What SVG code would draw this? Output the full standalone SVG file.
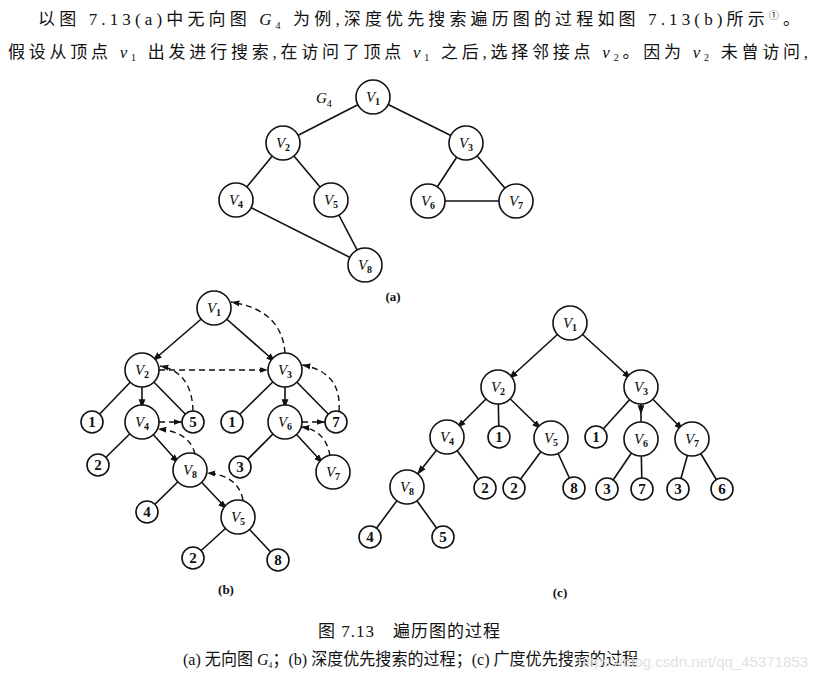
<svg xmlns="http://www.w3.org/2000/svg" width="819" height="684" viewBox="0 0 819 684">
<style>
.t{font-family:"Liberation Serif","Noto Sans CJK SC",serif;font-size:17px;fill:#111}
.c{fill:#fff;stroke:#111;stroke-width:1.6}
.e{fill:none;stroke:#111;stroke-width:1.6}
.d{fill:none;stroke:#111;stroke-width:1.4;stroke-dasharray:6,4}
.v{font-family:"Liberation Serif",serif;font-style:italic;font-size:15px;fill:#111;text-anchor:middle}
.s{font-family:"Liberation Serif",serif;font-size:15px;font-weight:bold;fill:#111;text-anchor:middle}
.sub{font-size:10px;font-style:normal;font-weight:bold}
.lab{font-family:"Liberation Serif",serif;font-size:13px;font-weight:bold;fill:#111;text-anchor:middle}
</style>
<defs>
<marker id="ar" viewBox="0 0 10 10" refX="5" refY="5" markerWidth="6" markerHeight="6" orient="auto"><path d="M0,1.5 L10,5 L0,8.5 z" fill="#111"/></marker>
<marker id="ae" viewBox="0 0 10 10" refX="10" refY="5" markerWidth="6" markerHeight="6" orient="auto"><path d="M0,1.5 L10,5 L0,8.5 z" fill="#111"/></marker>
</defs>
<rect width="819" height="684" fill="#fff"/>
<text class="t" x="38" y="25" textLength="762" lengthAdjust="spacing">以图 7.13(a)中无向图 <tspan font-style="italic">G</tspan><tspan font-size="10" dy="4">4</tspan><tspan dy="-4"> 为例,深度优先搜索遍历图的过程如图 7.13(b)所示</tspan><tspan font-size="10" dy="-6">①</tspan><tspan dy="6">。</tspan></text>
<text class="t" x="8" y="58" textLength="800" lengthAdjust="spacing">假设从顶点 <tspan font-style="italic">v</tspan><tspan font-size="10" dy="3">1</tspan><tspan dy="-3"> 出发进行搜索,在访问了顶点 </tspan><tspan font-style="italic">v</tspan><tspan font-size="10" dy="3">1</tspan><tspan dy="-3"> 之后,选择邻接点 </tspan><tspan font-style="italic">v</tspan><tspan font-size="10" dy="3">2</tspan><tspan dy="-3">。因为 </tspan><tspan font-style="italic">v</tspan><tspan font-size="10" dy="3">2</tspan><tspan dy="-3"> 未曾访问,</tspan></text>

<g id="connectors">
<path class="e" d="M373,97 L283,143 M373,97 L466,143 M283,143 L236,200 M283,143 L331,200 M466,143 L428,201 M466,143 L516,201 M428,201 L516,201 M236,200 L365,265 M331,200 L365,265"/>
<path class="e" marker-mid="url(#ar)" d="M214,308 L156,358 L142,370"/>
<path class="e" marker-mid="url(#ar)" d="M214,308 L272,359 L285,370"/>
<path class="e" marker-mid="url(#ar)" d="M142,370 L142,404 L142,422"/>
<path class="e" marker-mid="url(#ar)" d="M142,422 L176,460 L190,470"/>
<path class="e" marker-mid="url(#ar)" d="M190,470 L224,506 L238,517"/>
<path class="e" marker-mid="url(#ar)" d="M285,370 L285,404 L285,422"/>
<path class="e" marker-mid="url(#ar)" d="M285,422 L320,460 L333,472"/>
<path class="e" d="M142,370 L92,422 M142,370 L193,422 M285,370 L232,422 M285,370 L336,422 M142,422 L98,465 M285,422 L240,467 M190,470 L147,512 M238,517 L193,558 M238,517 L278,560"/>
<path class="d" marker-end="url(#ae)" d="M159,370 L268,370"/>
<path class="d" marker-end="url(#ae)" d="M159,422 L182,422"/>
<path class="d" marker-end="url(#ae)" d="M302,422 L325,422"/>
<path class="d" marker-end="url(#ae)" d="M193,411 Q192,372 160,366"/>
<path class="d" marker-end="url(#ae)" d="M195,454 Q190,432 158,429"/>
<path class="d" marker-end="url(#ae)" d="M243,500 Q238,475 207,473"/>
<path class="d" marker-end="url(#ae)" d="M330,456 Q326,430 301,427"/>
<path class="d" marker-end="url(#ae)" d="M339,411 Q342,372 302,365"/>
<path class="d" marker-end="url(#ae)" d="M285,353 Q282,310 231,302"/>
<path class="e" marker-mid="url(#ar)" d="M570,323 L512,376 L498,387"/>
<path class="e" marker-mid="url(#ar)" d="M570,323 L628,376 L641,387"/>
<path class="e" marker-mid="url(#ar)" d="M498,387 L460,425 L447,437"/>
<path class="e" marker-mid="url(#ar)" d="M498,387 L538,426 L551,438"/>
<path class="e" marker-mid="url(#ar)" d="M641,387 L641,410 L641,439"/>
<path class="e" marker-mid="url(#ar)" d="M641,387 L680,427 L692,439"/>
<path class="e" marker-mid="url(#ar)" d="M447,437 L420,471 L407,487"/>
<path class="e" d="M498,387 L499,437 M641,387 L596,437 M447,437 L485,488 M551,438 L514,488 M551,438 L574,488 M641,439 L607,489 M641,439 L642,489 M692,439 L678,489 M692,439 L722,489 M407,487 L370,537 M407,487 L443,537"/>
</g>

<g id="a-nodes">
<text x="316" y="103" font-family="Liberation Serif,serif" font-style="italic" font-size="15">G<tspan font-size="10" dy="4" font-style="normal">4</tspan></text>
<g id="a1"><circle class="c" cx="373" cy="97" r="17"/><text class="v" x="373" y="102">V<tspan class="sub" dy="3">1</tspan></text></g>
<g id="a2"><circle class="c" cx="283" cy="143" r="17"/><text class="v" x="283" y="148">V<tspan class="sub" dy="3">2</tspan></text></g>
<g id="a3"><circle class="c" cx="466" cy="143" r="17"/><text class="v" x="466" y="148">V<tspan class="sub" dy="3">3</tspan></text></g>
<g id="a4"><circle class="c" cx="236" cy="200" r="17"/><text class="v" x="236" y="205">V<tspan class="sub" dy="3">4</tspan></text></g>
<g id="a5"><circle class="c" cx="331" cy="200" r="17"/><text class="v" x="331" y="205">V<tspan class="sub" dy="3">5</tspan></text></g>
<g id="a6"><circle class="c" cx="428" cy="201" r="17"/><text class="v" x="428" y="206">V<tspan class="sub" dy="3">6</tspan></text></g>
<g id="a7"><circle class="c" cx="516" cy="201" r="17"/><text class="v" x="516" y="206">V<tspan class="sub" dy="3">7</tspan></text></g>
<g id="a8"><circle class="c" cx="365" cy="265" r="17"/><text class="v" x="365" y="270">V<tspan class="sub" dy="3">8</tspan></text></g>
<text class="lab" x="393" y="301">(a)</text>
</g>

<g id="b-nodes">
<g id="b1"><circle class="c" cx="214" cy="308" r="17"/><text class="v" x="214" y="313">V<tspan class="sub" dy="3">1</tspan></text></g>
<g id="b2"><circle class="c" cx="142" cy="370" r="17"/><text class="v" x="142" y="375">V<tspan class="sub" dy="3">2</tspan></text></g>
<g id="b3"><circle class="c" cx="285" cy="370" r="17"/><text class="v" x="285" y="375">V<tspan class="sub" dy="3">3</tspan></text></g>
<g id="b4"><circle class="c" cx="142" cy="422" r="17"/><text class="v" x="142" y="427">V<tspan class="sub" dy="3">4</tspan></text></g>
<g id="b6"><circle class="c" cx="285" cy="422" r="17"/><text class="v" x="285" y="427">V<tspan class="sub" dy="3">6</tspan></text></g>
<g id="b8"><circle class="c" cx="190" cy="470" r="17"/><text class="v" x="190" y="475">V<tspan class="sub" dy="3">8</tspan></text></g>
<g id="b7"><circle class="c" cx="333" cy="472" r="17"/><text class="v" x="333" y="477">V<tspan class="sub" dy="3">7</tspan></text></g>
<g id="b5"><circle class="c" cx="238" cy="517" r="17"/><text class="v" x="238" y="522">V<tspan class="sub" dy="3">5</tspan></text></g>
<g id="bl1"><circle class="c" cx="92" cy="422" r="11"/><text class="s" x="92" y="427">1</text></g>
<g id="bl2"><circle class="c" cx="193" cy="422" r="11"/><text class="s" x="193" y="427">5</text></g>
<g id="bl3"><circle class="c" cx="232" cy="422" r="11"/><text class="s" x="232" y="427">1</text></g>
<g id="bl4"><circle class="c" cx="336" cy="422" r="11"/><text class="s" x="336" y="427">7</text></g>
<g id="bl5"><circle class="c" cx="98" cy="465" r="11"/><text class="s" x="98" y="470">2</text></g>
<g id="bl6"><circle class="c" cx="240" cy="467" r="11"/><text class="s" x="240" y="472">3</text></g>
<g id="bl7"><circle class="c" cx="147" cy="512" r="11"/><text class="s" x="147" y="517">4</text></g>
<g id="bl8"><circle class="c" cx="193" cy="558" r="11"/><text class="s" x="193" y="563">2</text></g>
<g id="bl9"><circle class="c" cx="278" cy="560" r="11"/><text class="s" x="278" y="565">8</text></g>
<text class="lab" x="226" y="594">(b)</text>
</g>

<g id="c-nodes">
<g id="c1"><circle class="c" cx="570" cy="323" r="17"/><text class="v" x="570" y="328">V<tspan class="sub" dy="3">1</tspan></text></g>
<g id="c2"><circle class="c" cx="498" cy="387" r="17"/><text class="v" x="498" y="392">V<tspan class="sub" dy="3">2</tspan></text></g>
<g id="c3"><circle class="c" cx="641" cy="387" r="17"/><text class="v" x="641" y="392">V<tspan class="sub" dy="3">3</tspan></text></g>
<g id="c4"><circle class="c" cx="447" cy="437" r="17"/><text class="v" x="447" y="442">V<tspan class="sub" dy="3">4</tspan></text></g>
<g id="c5"><circle class="c" cx="551" cy="438" r="17"/><text class="v" x="551" y="443">V<tspan class="sub" dy="3">5</tspan></text></g>
<g id="c6"><circle class="c" cx="641" cy="439" r="17"/><text class="v" x="641" y="444">V<tspan class="sub" dy="3">6</tspan></text></g>
<g id="c7"><circle class="c" cx="692" cy="439" r="17"/><text class="v" x="692" y="444">V<tspan class="sub" dy="3">7</tspan></text></g>
<g id="c8"><circle class="c" cx="407" cy="487" r="17"/><text class="v" x="407" y="492">V<tspan class="sub" dy="3">8</tspan></text></g>
<g id="cl1"><circle class="c" cx="499" cy="437" r="11"/><text class="s" x="499" y="442">1</text></g>
<g id="cl2"><circle class="c" cx="596" cy="437" r="11"/><text class="s" x="596" y="442">1</text></g>
<g id="cl3"><circle class="c" cx="485" cy="488" r="11"/><text class="s" x="485" y="493">2</text></g>
<g id="cl4"><circle class="c" cx="514" cy="488" r="11"/><text class="s" x="514" y="493">2</text></g>
<g id="cl5"><circle class="c" cx="574" cy="488" r="11"/><text class="s" x="574" y="493">8</text></g>
<g id="cl6"><circle class="c" cx="607" cy="489" r="11"/><text class="s" x="607" y="494">3</text></g>
<g id="cl7"><circle class="c" cx="642" cy="489" r="11"/><text class="s" x="642" y="494">7</text></g>
<g id="cl8"><circle class="c" cx="678" cy="489" r="11"/><text class="s" x="678" y="494">3</text></g>
<g id="cl9"><circle class="c" cx="722" cy="489" r="11"/><text class="s" x="722" y="494">6</text></g>
<g id="cl10"><circle class="c" cx="370" cy="537" r="11"/><text class="s" x="370" y="542">4</text></g>
<g id="cl11"><circle class="c" cx="443" cy="537" r="11"/><text class="s" x="443" y="542">5</text></g>
<text class="lab" x="560" y="597">(c)</text>
</g>

<text class="t" x="318" y="637" font-size="15" textLength="182" lengthAdjust="spacing">图 7.13　遍历图的过程</text>
<text class="t" x="183" y="665" font-size="12" textLength="455" lengthAdjust="spacingAndGlyphs">(a) 无向图 <tspan font-style="italic">G</tspan><tspan font-size="8" dy="3">4</tspan><tspan dy="-3">；(b) 深度优先搜索的过程；(c) 广度优先搜索的过程</tspan></text>
<text x="808" y="667" text-anchor="end" font-family="Liberation Sans,sans-serif" font-size="15" fill="#e2e2e2">https://blog.csdn.net/qq_45371853</text>
</svg>
